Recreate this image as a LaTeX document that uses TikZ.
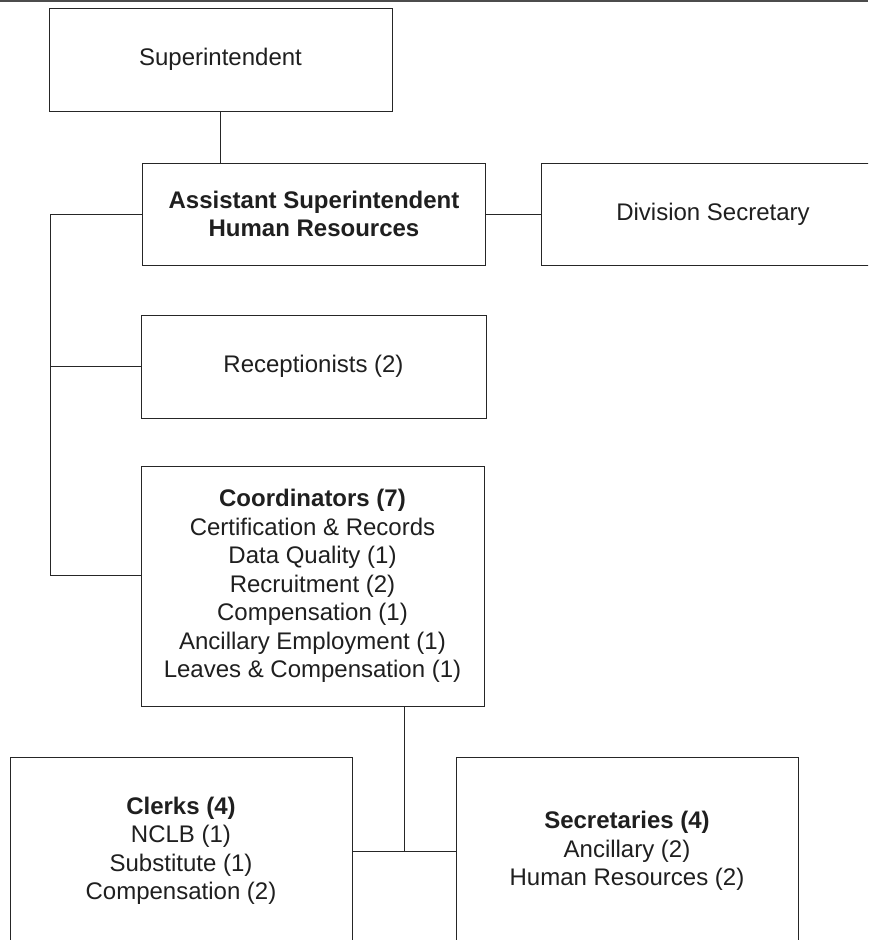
\documentclass[tikz,border=0pt]{standalone}
\usepackage{fontspec}
\setmainfont{Liberation Sans}
\usetikzlibrary{positioning}

\begin{document}
\begin{tikzpicture}[x = 1pt, y = -1pt,
  box/.style = {draw = black!85, line width = 1pt, fill = white, text = black!88,
    align = center, inner sep = 0pt, font = \fontsize{24}{28.5}\selectfont,
    minimum width = 343pt},
  link/.style = {draw = black!85, line width = 1pt}]
\clip (0,0) rectangle (868,940);
\draw[black!70, line width = 2pt] (0,1) -- (868,1);

\node[box, minimum height = 103pt] (sup) at (220.5,59.5) {Superintendent};
\node[box, minimum height = 102pt] (asst) at (314,214) {\textbf{Assistant Superintendent}\\ \textbf{Human Resources}};
\node[box, minimum height = 102pt, minimum width = 344pt] (div) at (713,214) {Division Secretary};
\node[box, minimum height = 103pt, minimum width = 345pt] (recep) at (313.5,366.5) {Receptionists (2)};
\node[box, minimum height = 240pt] (coord) at (312.5,586) {\textbf{Coordinators (7)}\\ Certification \& Records\\ Data Quality (1)\\ Recruitment (2)\\ Compensation (1)\\ Ancillary Employment (1)\\ Leaves \& Compensation (1)};
\node[box, minimum height = 188pt, minimum width = 342pt] (clerks) at (181,851) {\textbf{Clerks (4)}\\ NCLB (1)\\ Substitute (1)\\ Compensation (2)};
\node[box, minimum height = 188pt, minimum width = 342pt] (secs) at (627,851) {\textbf{Secretaries (4)}\\ Ancillary (2)\\ Human Resources (2)};

\coordinate (top) at (50,214);
\coordinate (bot) at (50,575);
\coordinate (join) at (404,851);

\draw[link] (sup.south) -- (sup.south |- asst.north);
\draw[link] (asst.east) -- (div.west);
\draw[link] (asst.west) -- (top) -- (bot) -- (bot -| coord.west);
\draw[link] (recep.west) -- (recep.west -| top);
\draw[link] (join |- coord.south) -- (join);
\draw[link] (clerks.east) -- (secs.west);
\end{tikzpicture}
\end{document}
